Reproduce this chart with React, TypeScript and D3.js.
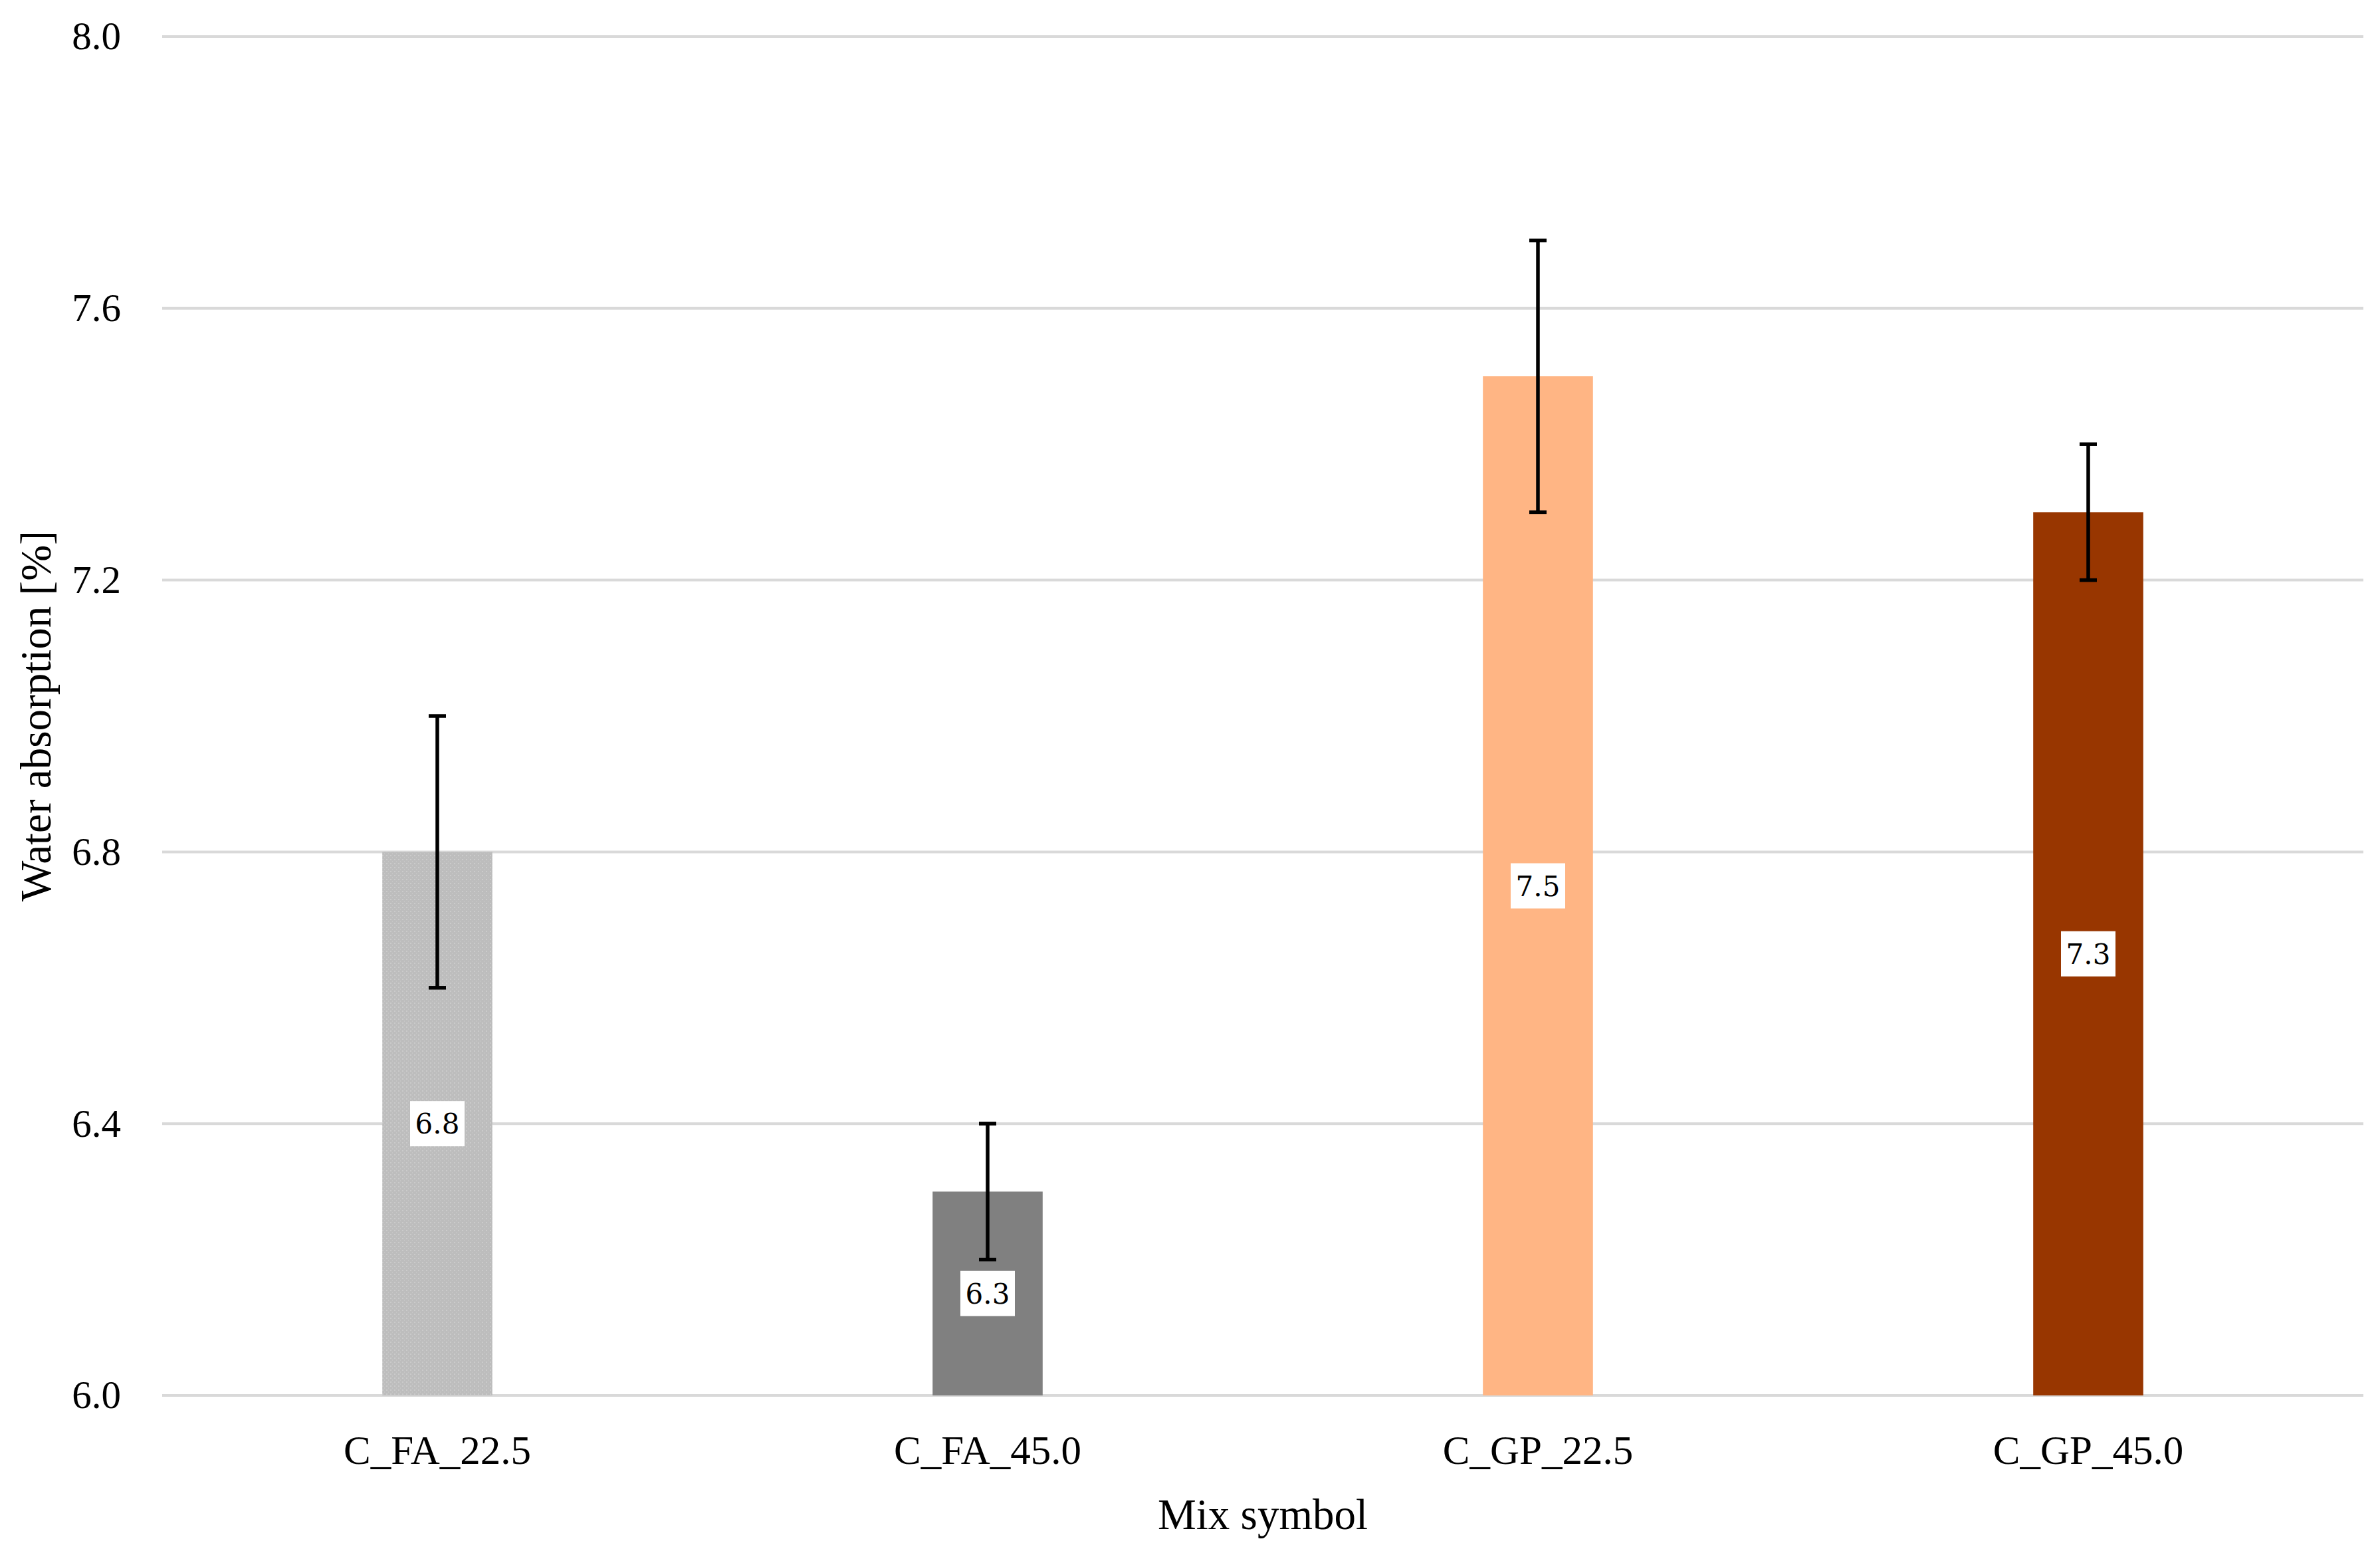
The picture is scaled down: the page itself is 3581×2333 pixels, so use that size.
import { useRef, useEffect } from "react";
import * as d3 from "d3";

const mixes = ["C_FA_22.5", "C_FA_45.0", "C_GP_22.5", "C_GP_45.0"];
const absorption = [6.8, 6.3, 7.5, 7.3];
const errors = [0.2, 0.1, 0.2, 0.1];
const barColors = ["#bdbdbd", "#808080", "#ffb584", "#983600"];
const yTicks = [6.0, 6.4, 6.8, 7.2, 7.6, 8.0];

const WIDTH = 3581;
const HEIGHT = 2333;

export default function App() {
  const svgRef = useRef<SVGSVGElement>(null);

  useEffect(() => {
    document.body.style.margin = "0";
    if (!svgRef.current) return;
    const svg = d3.select(svgRef.current);
    svg.selectAll("*").remove();

    const margin = { top: 55, right: 25, bottom: 234, left: 244 };
    const w = WIDTH - margin.left - margin.right;
    const h = HEIGHT - margin.top - margin.bottom;
    const font = "'Liberation Serif', 'Times New Roman', serif";

    svg.append("rect").attr("width", WIDTH).attr("height", HEIGHT).attr("fill", "#fff");

    // dotted texture for the light grey bar
    const defs = svg.append("defs");
    const pat = defs.append("pattern")
      .attr("id", "dots")
      .attr("width", 6).attr("height", 6)
      .attr("patternUnits", "userSpaceOnUse");
    pat.append("rect").attr("width", 6).attr("height", 6).attr("fill", barColors[0]);
    pat.append("rect").attr("x", 1).attr("y", 1).attr("width", 2).attr("height", 2).attr("fill", "#cbcbcb");
    pat.append("rect").attr("x", 4).attr("y", 4).attr("width", 1).attr("height", 2).attr("fill", "#c6c6c6");

    const g = svg.append("g").attr("transform", `translate(${margin.left},${margin.top})`);

    const x = d3.scaleBand<string>()
      .domain(mixes)
      .range([0, w])
      .paddingInner(0.8)
      .paddingOuter(0.4);

    const y = d3.scaleLinear().domain([6, 8]).range([h, 0]);

    // gridlines
    g.selectAll(".grid")
      .data(yTicks)
      .join("line")
      .attr("x1", 0).attr("x2", w)
      .attr("y1", (d) => y(d)).attr("y2", (d) => y(d))
      .attr("stroke", "#d9d9d9")
      .attr("stroke-width", 4);

    // y axis labels
    const yAxis = g.append("g")
      .call(d3.axisLeft(y).tickValues(yTicks).tickFormat(d3.format(".1f")).tickSize(0).tickPadding(62));
    yAxis.select(".domain").remove();
    yAxis.selectAll(".tick text")
      .attr("font-family", font)
      .attr("font-size", "59px")
      .attr("fill", "#000");

    // x axis labels
    const xAxis = g.append("g")
      .attr("transform", `translate(0,${h})`)
      .call(d3.axisBottom(x).tickSize(0).tickPadding(60));
    xAxis.select(".domain").remove();
    xAxis.selectAll(".tick text")
      .attr("font-family", font)
      .attr("font-size", "61px")
      .attr("fill", "#000");

    const data = mixes.map((m, i) => ({ m, v: absorption[i], e: errors[i], c: barColors[i], i }));

    // bars
    g.selectAll(".bar")
      .data(data)
      .join("rect")
      .attr("x", (d) => x(d.m) ?? 0)
      .attr("y", (d) => y(d.v))
      .attr("width", x.bandwidth())
      .attr("height", (d) => y(6) - y(d.v))
      .attr("fill", (d) => (d.i === 0 ? "url(#dots)" : d.c));

    // error bars
    const cap = 13;
    const eb = g.selectAll(".err").data(data).join("g");
    eb.append("line")
      .attr("x1", (d) => (x(d.m) ?? 0) + x.bandwidth() / 2)
      .attr("x2", (d) => (x(d.m) ?? 0) + x.bandwidth() / 2)
      .attr("y1", (d) => y(d.v - d.e))
      .attr("y2", (d) => y(d.v + d.e))
      .attr("stroke", "#000").attr("stroke-width", 5.5);
    [1, -1].forEach((s) => {
      eb.append("line")
        .attr("x1", (d) => (x(d.m) ?? 0) + x.bandwidth() / 2 - cap)
        .attr("x2", (d) => (x(d.m) ?? 0) + x.bandwidth() / 2 + cap)
        .attr("y1", (d) => y(d.v + s * d.e))
        .attr("y2", (d) => y(d.v + s * d.e))
        .attr("stroke", "#000").attr("stroke-width", 5.5);
    });

    // value labels in white boxes, centred in the bar
    const lab = g.selectAll(".lab").data(data).join("g")
      .attr("transform", (d) => `translate(${(x(d.m) ?? 0) + x.bandwidth() / 2},${y((d.v + 6) / 2)})`);
    lab.append("rect")
      .attr("x", -41).attr("y", -34)
      .attr("width", 82).attr("height", 68)
      .attr("fill", "#fff");
    lab.append("text")
      .attr("text-anchor", "middle")
      .attr("dy", "0.36em")
      .attr("font-family", "'DejaVu Serif', serif")
      .attr("font-size", "42px")
      .attr("fill", "#000")
      .text((d) => d.v.toFixed(1));

    // axis titles
    svg.append("text")
      .attr("x", margin.left + w / 2)
      .attr("y", 2300)
      .attr("text-anchor", "middle")
      .attr("font-family", font)
      .attr("font-size", "65px")
      .attr("fill", "#000")
      .text("Mix symbol");

    svg.append("text")
      .attr("transform", `translate(76,${margin.top + h / 2}) rotate(-90)`)
      .attr("text-anchor", "middle")
      .attr("font-family", font)
      .attr("font-size", "65px")
      .attr("fill", "#000")
      .text("Water absorption [%]");
  }, []);

  return <svg ref={svgRef} width={WIDTH} height={HEIGHT} style={{ display: "block" }} />;
}
